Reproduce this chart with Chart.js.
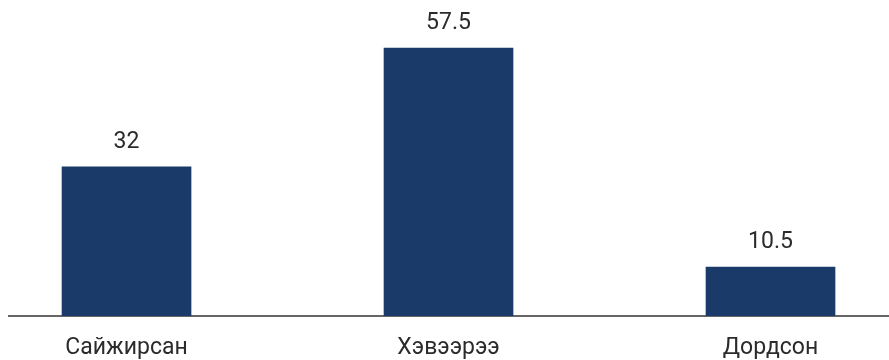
<!DOCTYPE html>
<html>
<head>
<meta charset="utf-8">
<script src="https://cdn.jsdelivr.net/npm/chart.js@4/dist/chart.umd.min.js"></script>
<style>
  html, body { margin: 0; padding: 0; background: #fff; }
  #wrap { width: 889px; height: 360px; position: relative; }
</style>
</head>
<body>
<div id="wrap"><canvas id="chart"></canvas></div>
<script>
const categories = ['Сайжирсан', 'Хэвээрээ', 'Дордсон'];
const values = [32, 57.5, 10.5];
const valueLabels = ['32', '57.5', '10.5'];

const barColor = '#1a3a6a';
const textColor = '#2b2b2b';

// draw the number above each bar
const valueLabelPlugin = {
    id: 'valueLabels',
    afterDatasetsDraw(chart) {
        const ctx = chart.ctx;
        const meta = chart.getDatasetMeta(0);
        ctx.save();
        ctx.font = '23px Roboto';
        ctx.fillStyle = textColor;
        ctx.textAlign = 'center';
        ctx.textBaseline = 'middle';
        meta.data.forEach((bar, i) => {
            ctx.fillText(valueLabels[i], bar.x, bar.y - 25);
        });
        ctx.restore();
    }
};

const ctx = document.getElementById('chart').getContext('2d');
new Chart(ctx, {
    type: 'bar',
    data: {
        datasets: [{
            data: values.map((v, i) => ({ x: i, y: v })),
            backgroundColor: barColor,
            borderWidth: 0,
            barThickness: 129
        }]
    },
    plugins: [valueLabelPlugin],
    options: {
        responsive: true,
        maintainAspectRatio: false,
        animation: false,
        layout: {
            padding: { left: 9, right: 0, top: 0, bottom: 0 }
        },
        plugins: {
            legend: { display: false },
            tooltip: { enabled: false }
        },
        scales: {
            x: {
                type: 'linear',
                offset: false,
                min: -0.365,
                max: 2.368,
                grid: { display: false, drawTicks: false },
                border: { display: true, color: '#666666', width: 2 },
                afterFit(scale) { scale.height = 44; },
                ticks: {
                    stepSize: 1,
                    includeBounds: false,
                    autoSkip: false,
                    maxRotation: 0,
                    padding: 18,
                    color: textColor,
                    font: { family: 'Roboto', size: 23 },
                    callback: function(value) {
                        return Number.isInteger(value) ? (categories[value] || '') : '';
                    }
                }
            },
            y: {
                display: false,
                min: 0,
                max: 67.8
            }
        }
    }
});
</script>
</body>
</html>
